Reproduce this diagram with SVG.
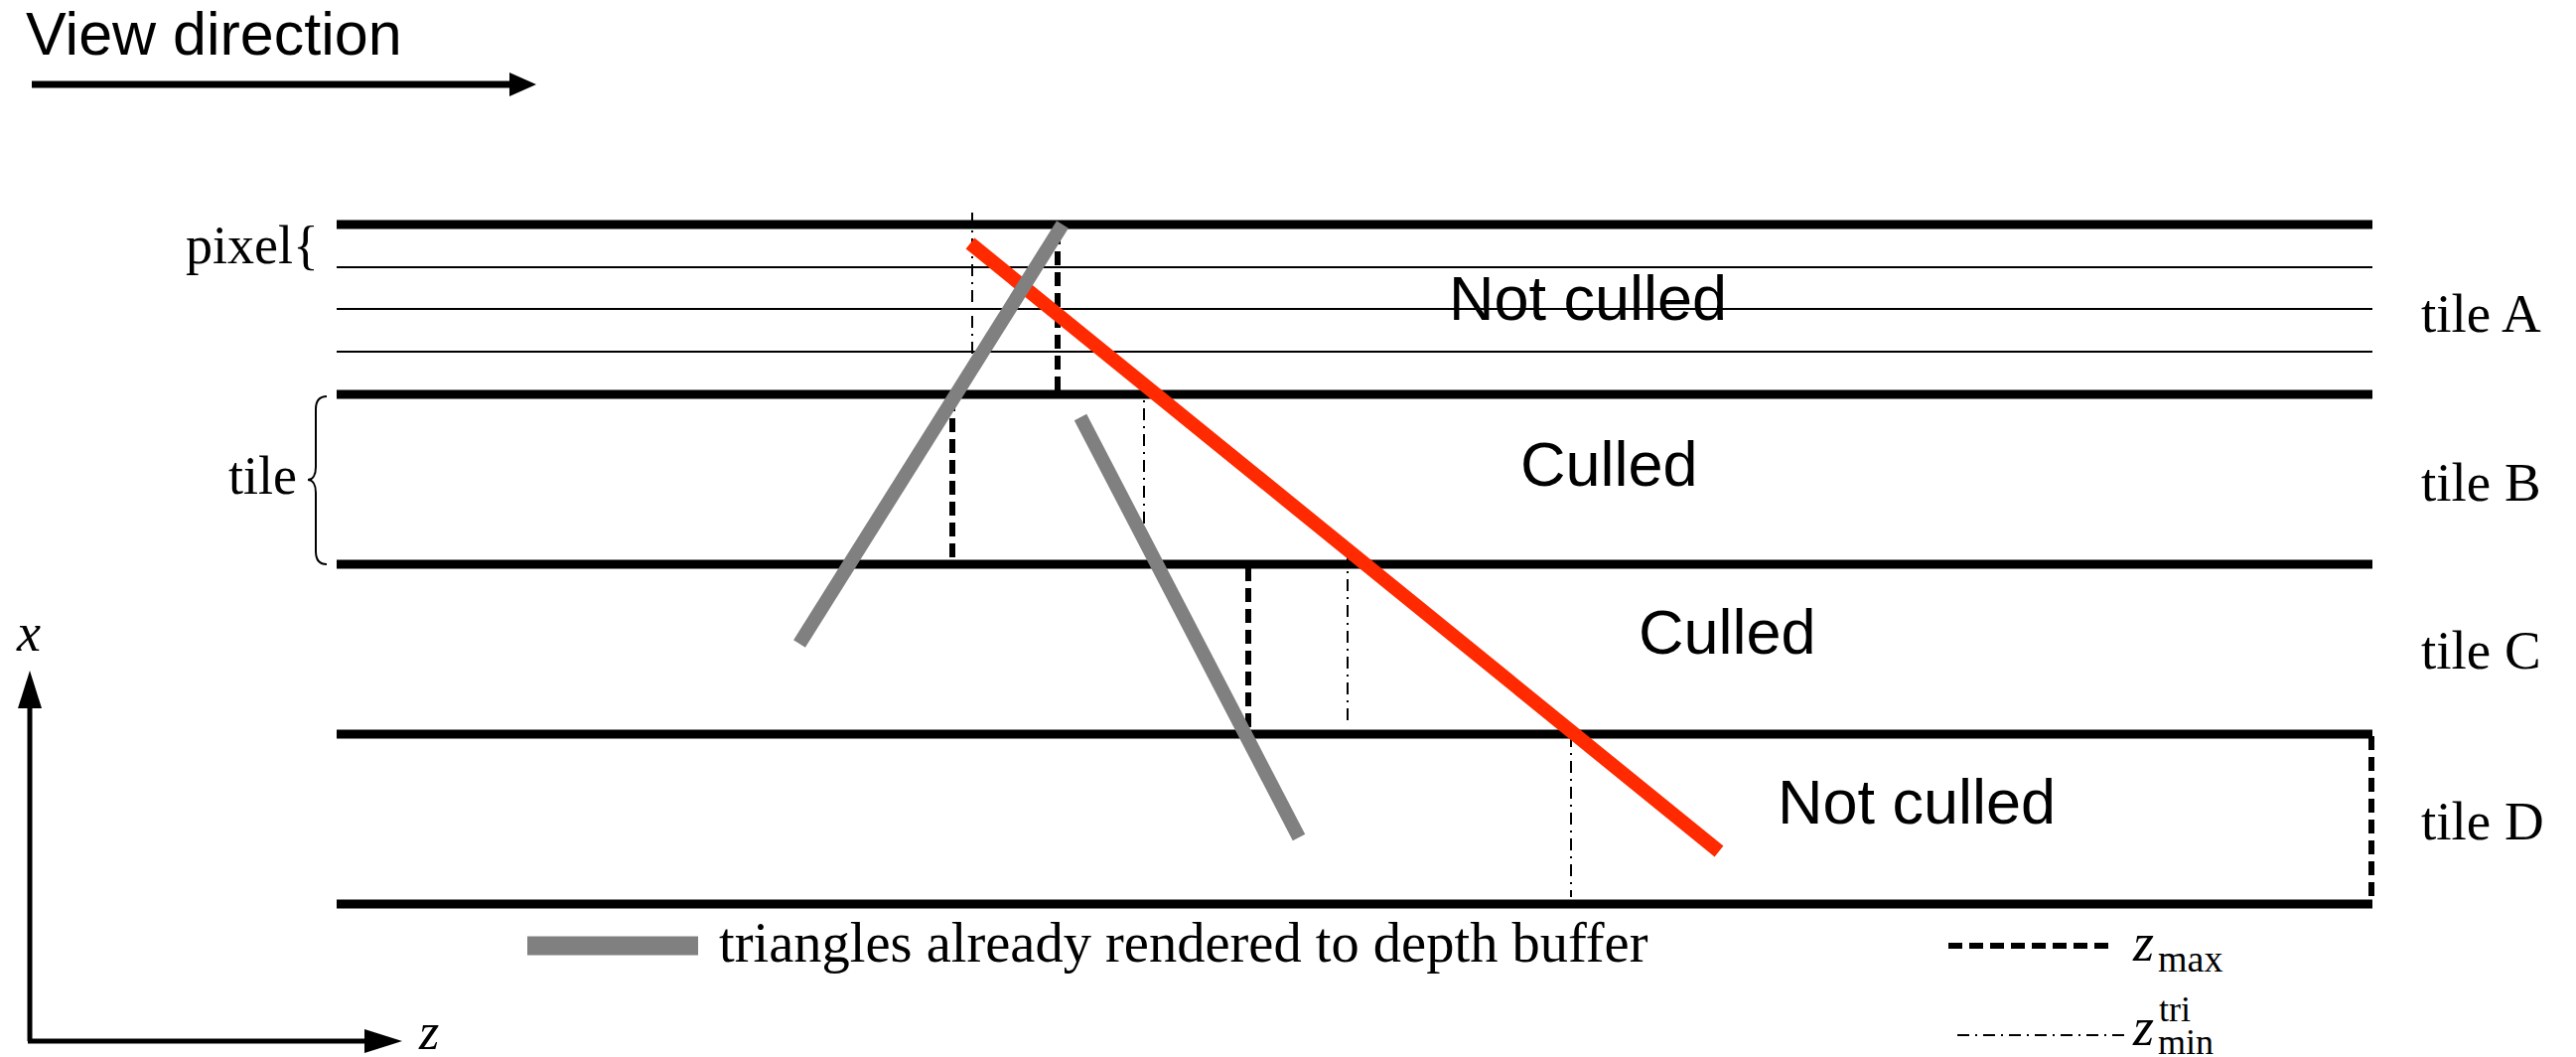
<svg xmlns="http://www.w3.org/2000/svg" width="2594" height="1064" viewBox="0 0 2594 1064">
  <style>
    .sans { font-family: "Liberation Sans", Arial, sans-serif; fill: #000; }
    .serif { font-family: "Liberation Serif", "Times New Roman", serif; fill: #000; }
    .it { font-style: italic; }
    .thick { stroke: #000; stroke-width: 9; }
    .thin { stroke: #000; stroke-width: 2; }
    .zmax { stroke: #000; stroke-width: 6; stroke-dasharray: 14 7; fill: none; }
    .zmin { stroke: #000; stroke-width: 2; stroke-dasharray: 12 6 2 6; fill: none; }
    .tri { stroke: #808080; stroke-width: 14; stroke-linecap: butt; }
    .cur { stroke: #ff2a00; stroke-width: 14; stroke-linecap: butt; }
  </style>
  <rect width="2594" height="1064" fill="#fff"/>

  <!-- view direction -->
  <g id="view-direction">
    <text class="sans" x="26" y="55" font-size="61">View direction</text>
    <line x1="32" y1="85" x2="516" y2="85" stroke="#000" stroke-width="7"/>
    <polygon points="540,85 513,73 513,97" fill="#000"/>
  </g>

  <!-- tile rows -->
  <g id="tile-grid">
    <line class="thick" x1="339" y1="226" x2="2389" y2="226"/>
    <line class="thin" x1="339" y1="269" x2="2389" y2="269"/>
    <line class="thin" x1="339" y1="311" x2="2389" y2="311"/>
    <line class="thin" x1="339" y1="354" x2="2389" y2="354"/>
    <line class="thick" x1="339" y1="397" x2="2389" y2="397"/>
    <line class="thick" x1="339" y1="568" x2="2389" y2="568"/>
    <line class="thick" x1="339" y1="739" x2="2389" y2="739"/>
    <line class="thick" x1="339" y1="910" x2="2389" y2="910"/>
  </g>

  <g id="pixel-label">
    <text class="serif" x="187" y="265" font-size="54">pixel{</text>
  </g>
  <g id="tile-label">
    <text class="serif" x="230" y="497" font-size="54">tile</text>
    <path d="M329,399 C321,399 318,404 318,412 L318,470 C318,478 315,483 310,483 C315,483 318,488 318,496 L318,555 C318,563 321,568 329,568" fill="none" stroke="#000" stroke-width="2"/>
  </g>

  <g id="tile-A">
    <text class="serif" x="2438" y="334" font-size="55">tile A</text>
    <text class="sans" x="1459" y="322" font-size="63">Not culled</text>
  </g>
  <g id="tile-B">
    <text class="serif" x="2438" y="504" font-size="55">tile B</text>
    <text class="sans" x="1531" y="489" font-size="63">Culled</text>
  </g>
  <g id="tile-C">
    <text class="serif" x="2438" y="673" font-size="55">tile C</text>
    <text class="sans" x="1650" y="658" font-size="63">Culled</text>
  </g>
  <g id="tile-D">
    <text class="serif" x="2438" y="845" font-size="55">tile D</text>
    <text class="sans" x="1790" y="829" font-size="63">Not culled</text>
  </g>

  <!-- per-tile depth bounds -->
  <g id="connectors">
    <line class="zmax" x1="1065" y1="232" x2="1065" y2="397"/>
    <line class="zmax" x1="959" y1="400" x2="959" y2="568"/>
    <line class="zmax" x1="1257" y1="571" x2="1257" y2="739"/>
    <line class="zmax" x1="2388" y1="741" x2="2388" y2="908"/>
    <line class="zmin" x1="979" y1="214" x2="979" y2="384"/>
    <line class="zmin" x1="1152" y1="385" x2="1152" y2="555"/>
    <line class="zmin" x1="1357" y1="557" x2="1357" y2="727"/>
    <line class="zmin" x1="1582" y1="740" x2="1582" y2="903"/>
  </g>

  <!-- triangles seen edge-on -->
  <g id="incoming-triangle">
    <line class="cur" x1="977" y1="245" x2="1731" y2="857"/>
  </g>
  <g id="rendered-triangles">
    <line class="tri" x1="1070" y1="226" x2="805" y2="648"/>
    <line class="tri" x1="1088" y1="420" x2="1308" y2="843"/>
  </g>

  <!-- axes -->
  <g id="axes">
    <line x1="30" y1="1048" x2="30" y2="710" stroke="#000" stroke-width="5"/>
    <polygon points="30,675 18,713 42,713" fill="#000"/>
    <line x1="28" y1="1048" x2="370" y2="1048" stroke="#000" stroke-width="5"/>
    <polygon points="405,1048 367,1036 367,1060" fill="#000"/>
    <text class="serif it" x="17" y="655" font-size="54">x</text>
    <text class="serif it" x="422" y="1056" font-size="52">z</text>
  </g>

  <!-- legend -->
  <g id="legend-triangles">
    <line x1="531" y1="952" x2="703" y2="952" stroke="#808080" stroke-width="19"/>
    <text class="serif" x="724" y="968" font-size="56.5">triangles already rendered to depth buffer</text>
  </g>
  <g id="legend-zmax">
    <line class="zmax" x1="1962" y1="952" x2="2130" y2="952"/>
    <text class="serif it" x="2148" y="967" font-size="54">z</text>
    <text class="serif" x="2173" y="978" font-size="38">max</text>
  </g>
  <g id="legend-zmin">
    <line class="zmin" x1="1971" y1="1042" x2="2141" y2="1042"/>
    <text class="serif it" x="2148" y="1052" font-size="54">z</text>
    <text class="serif" x="2174" y="1028" font-size="36">tri</text>
    <text class="serif" x="2173" y="1061" font-size="36">min</text>
  </g>
</svg>
